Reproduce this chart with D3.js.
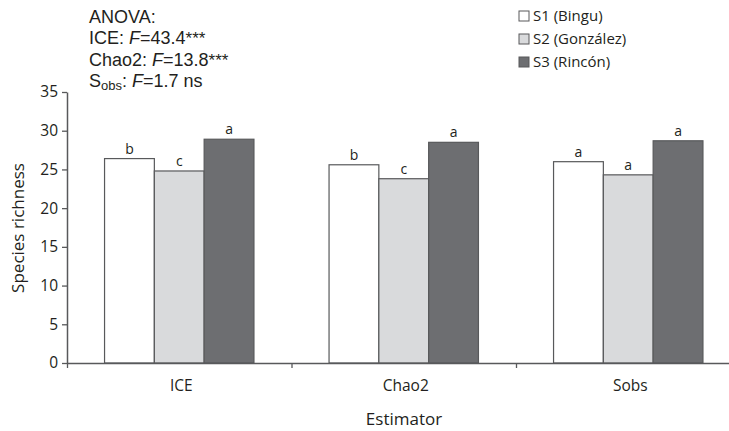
<!DOCTYPE html>
<html>
<head>
<meta charset="utf-8">
<script src="https://cdn.jsdelivr.net/npm/d3@7"></script>
<style>
  body { margin: 0; background: #fff; }
  text { fill: #231f20; }
</style>
</head>
<body>
<svg id="chart" font-family="'Open Sans', sans-serif"></svg>
<script>
  // Data
  const categories = ["ICE", "Chao2", "Sobs"];
  const seriesNames = ["S1 (Bingu)", "S2 (González)", "S3 (Rincón)"];
  const s1Values = [26.4, 25.6, 26.0];
  const s2Values = [24.8, 23.8, 24.3];
  const s3Values = [28.9, 28.5, 28.7];
  const s1Letters = ["b", "b", "a"];
  const s2Letters = ["c", "c", "a"];
  const s3Letters = ["a", "a", "a"];
  const yTicks = [0, 5, 10, 15, 20, 25, 30, 35];
  const colors = ["#ffffff", "#d9dadc", "#6d6e71"];

  const values = [s1Values, s2Values, s3Values];
  const letters = [s1Letters, s2Letters, s3Letters];
  const rows = categories.map((c, i) => ({
    cat: c,
    bars: seriesNames.map((s, j) => ({ series: s, j: j, v: values[j][i], letter: letters[j][i] }))
  }));

  const W = 729, H = 431;
  const axisColor = "#58595b";
  const svg = d3.select("#chart").attr("width", W).attr("height", H);

  // Scales
  const x0 = d3.scaleBand()
    .domain(categories)
    .range([67, 740.5])
    .padding(0);
  const x1 = d3.scaleBand()
    .domain(seriesNames)
    .range([0, x0.bandwidth()])
    .paddingInner(0)
    .paddingOuter(0.754);
  const y = d3.scaleLinear()
    .domain([0, 35])
    .range([363, 92]);

  // Bars
  const groups = svg.append("g").selectAll("g")
    .data(rows)
    .join("g")
    .attr("transform", d => `translate(${x0(d.cat)},0)`);

  groups.selectAll("rect")
    .data(d => d.bars)
    .join("rect")
    .attr("x", d => x1(d.series))
    .attr("y", d => y(d.v))
    .attr("width", x1.bandwidth())
    .attr("height", d => y(0) - y(d.v))
    .attr("fill", d => colors[d.j])
    .attr("stroke", axisColor)
    .attr("stroke-width", 1.2);

  groups.selectAll("text.letter")
    .data(d => d.bars)
    .join("text")
    .attr("class", "letter")
    .attr("x", d => x1(d.series) + x1.bandwidth() / 2)
    .attr("y", d => y(d.v) - 5)
    .attr("text-anchor", "middle")
    .attr("font-size", 14)
    .text(d => d.letter);

  // Y axis
  const yAxis = svg.append("g")
    .attr("transform", "translate(67,0)")
    .call(d3.axisLeft(y).tickValues(yTicks).tickSize(5).tickPadding(4).tickSizeOuter(0));
  yAxis.select(".domain").attr("stroke", axisColor).attr("stroke-width", 1.5);
  yAxis.selectAll(".tick line").attr("stroke", axisColor).attr("stroke-width", 1.3);
  yAxis.selectAll(".tick text")
    .attr("font-size", 15.5)
    .attr("font-family", "'Open Sans', sans-serif")
    .attr("fill", "#231f20");

  // X axis
  const xTickScale = d3.scaleLinear().domain([0, 3]).range([67, 740.5]);
  const xAxis = svg.append("g")
    .attr("transform", `translate(0,${y(0)})`)
    .call(d3.axisBottom(xTickScale).tickValues([0, 1, 2, 3]).tickSize(5).tickFormat("").tickSizeOuter(0));
  xAxis.select(".domain").attr("stroke", axisColor).attr("stroke-width", 1.5);
  xAxis.selectAll(".tick line").attr("stroke", axisColor).attr("stroke-width", 1.3);

  svg.append("g").selectAll("text")
    .data(categories)
    .join("text")
    .attr("x", d => x0(d) + x0.bandwidth() / 2 + 2)
    .attr("y", 391)
    .attr("text-anchor", "middle")
    .attr("font-size", 15.5)
    .text(d => d);

  // Axis titles
  svg.append("text")
    .attr("x", 404)
    .attr("y", 425)
    .attr("text-anchor", "middle")
    .attr("font-size", 17)
    .text("Estimator");
  svg.append("text")
    .attr("transform", "translate(24,228) rotate(-90)")
    .attr("text-anchor", "middle")
    .attr("font-size", 17)
    .text("Species richness");

  // ANOVA annotation, one text per line
  const annFont = "'Liberation Sans', Arial, sans-serif";
  const annSize = 18;
  const annLine = i => 23 + i * 21.3;
  const ann = svg.append("g")
    .style("font-family", annFont)
    .style("font-size", annSize + "px");
  ann.append("text").attr("x", 89).attr("y", annLine(0)).text("ANOVA:");
  const l1 = ann.append("text").attr("x", 89).attr("y", annLine(1));
  l1.append("tspan").text("ICE: ");
  l1.append("tspan").style("font-style", "italic").text("F");
  l1.append("tspan").text("=43.4");
  l1.append("tspan").style("font-size", "17px").text("***");
  const l2 = ann.append("text").attr("x", 89).attr("y", annLine(2));
  l2.append("tspan").text("Chao2: ");
  l2.append("tspan").style("font-style", "italic").text("F");
  l2.append("tspan").text("=13.8");
  l2.append("tspan").style("font-size", "17px").text("***");
  const l3 = ann.append("text").attr("x", 89).attr("y", annLine(3));
  l3.append("tspan").text("S");
  l3.append("tspan").style("font-size", "13px").attr("dy", 3).text("obs");
  l3.append("tspan").attr("dy", -3).text(": ");
  l3.append("tspan").style("font-style", "italic").text("F");
  l3.append("tspan").text("=1.7 ns");

  // Legend
  const legend = svg.append("g").selectAll("g")
    .data(seriesNames)
    .join("g")
    .attr("transform", (d, i) => `translate(519,${11 + i * 23})`);
  legend.append("rect")
    .attr("width", 10)
    .attr("height", 10)
    .attr("fill", (d, i) => colors[i])
    .attr("stroke", axisColor)
    .attr("stroke-width", 1);
  legend.append("text")
    .attr("x", 14)
    .attr("y", 10)
    .attr("font-size", 15)
    .text(d => d);
</script>
</body>
</html>
